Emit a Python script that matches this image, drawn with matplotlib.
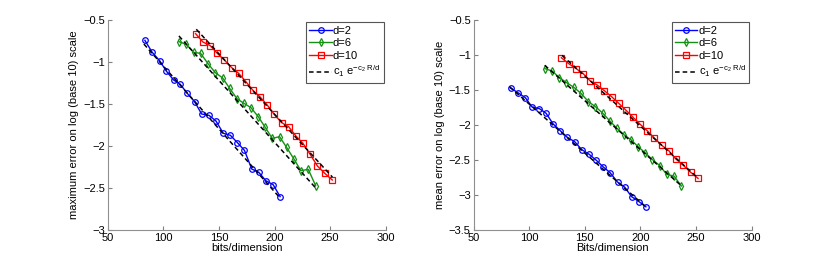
import matplotlib
matplotlib.use("Agg")
import matplotlib.pyplot as plt

plt.rcParams["font.family"] = ["Liberation Sans", "DejaVu Sans"]
plt.rcParams["mathtext.fontset"] = "custom"
plt.rcParams["mathtext.rm"] = "Liberation Sans"
plt.rcParams["mathtext.it"] = "Liberation Sans"

# bits/dimension for each dimension
x_d2 = [83.4, 90.0, 96.6, 102.6, 109.2, 115.2, 121.5, 128.1, 134.4, 141.0,
        147.3, 153.9, 160.3, 166.6, 172.9, 179.5, 185.8, 192.1, 198.7, 205.0]
x_d6 = [114.0, 120.6, 127.2, 133.5, 140.4, 146.7, 153.3, 159.6, 166.2, 172.5,
        178.8, 185.3, 191.6, 197.9, 204.5, 210.8, 217.4, 223.7, 230.3, 236.9]
x_d10 = [129.0, 135.6, 142.2, 148.5, 154.8, 161.4, 167.7, 174.2, 180.5, 186.8,
         193.4, 199.7, 206.3, 212.6, 219.2, 225.5, 231.8, 238.5, 245.1, 251.9]

# maximum error (log10)
max_d2 = [-0.742, -0.885, -0.984, -1.107, -1.214, -1.266, -1.373, -1.472, -1.619, -1.635,
          -1.702, -1.849, -1.873, -1.960, -2.052, -2.274, -2.313, -2.413, -2.460, -2.603]
max_d6 = [-0.758, -0.790, -0.885, -0.897, -1.024, -1.127, -1.190, -1.313, -1.437, -1.492,
          -1.544, -1.651, -1.778, -1.909, -1.889, -2.016, -2.155, -2.294, -2.278, -2.472]
max_d10 = [-0.663, -0.762, -0.806, -0.897, -0.976, -1.067, -1.135, -1.234, -1.337, -1.413,
           -1.512, -1.623, -1.722, -1.770, -1.881, -1.968, -2.095, -2.238, -2.325, -2.405]

# mean error (log10)
mean_d2 = [-1.473, -1.539, -1.610, -1.742, -1.766, -1.832, -1.983, -2.083, -2.177, -2.239,
           -2.352, -2.418, -2.503, -2.598, -2.683, -2.815, -2.886, -3.023, -3.094, -3.169]
mean_d6 = [-1.194, -1.228, -1.322, -1.393, -1.464, -1.549, -1.667, -1.738, -1.832, -1.941,
           -2.045, -2.139, -2.210, -2.309, -2.399, -2.494, -2.579, -2.706, -2.730, -2.872]
mean_d10 = [-1.039, -1.124, -1.194, -1.265, -1.369, -1.431, -1.511, -1.596, -1.690, -1.785,
            -1.889, -1.988, -2.083, -2.187, -2.290, -2.366, -2.484, -2.574, -2.673, -2.763]

# fitted c1*exp(-c2 R/d) lines (end points)
fit_x_d2 = [82.5, 205.0]
fit_x_d6 = [114.0, 237.0]
fit_x_d10 = [129.6, 252.0]
fit_max_d2 = [-0.786, -2.62]
fit_max_d6 = [-0.690, -2.50]
fit_max_d10 = [-0.610, -2.37]
fit_mean_d2 = [-1.455, -3.17]
fit_mean_d6 = [-1.147, -2.87]
fit_mean_d10 = [-1.006, -2.76]

labels = ["d=2", "d=6", "d=10", r"$c_1\ e^{-c_2\ R/d}$"]
colors = ["#0000ff", "#149014", "#ff0000"]
markers = ["o", "d", "s"]

fig = plt.figure(figsize=(8.3, 2.6), dpi=100)
ax1 = fig.add_axes([0.1298, 0.1154, 0.335, 0.8077])
ax2 = fig.add_axes([0.5705, 0.1154, 0.335, 0.8077])

panels = [
    (ax1, [max_d2, max_d6, max_d10], [fit_max_d2, fit_max_d6, fit_max_d10],
     "maximum error on log (base 10) scale", "bits/dimension", (-3, -0.5)),
    (ax2, [mean_d2, mean_d6, mean_d10], [fit_mean_d2, fit_mean_d6, fit_mean_d10],
     "mean error on log (base 10) scale", "Bits/dimension", (-3.5, -0.5)),
]
xs = [x_d2, x_d6, x_d10]
fit_xs = [fit_x_d2, fit_x_d6, fit_x_d10]

for ax, ys, fits, ylab, xlab, ylim in panels:
    handles = []
    for x, y, c, m in zip(xs, ys, colors, markers):
        h, = ax.plot(x, y, color=c, marker=m, mfc="none", mec=c, ms=4, lw=1, mew=0.9)
        handles.append(h)
    for fx, fy in zip(fit_xs, fits):
        hf, = ax.plot(fx, fy, "k--", lw=1.1, dashes=(3, 2))
    handles.append(hf)
    ax.set_xlim(50, 300)
    ax.set_ylim(*ylim)
    ax.set_xticks([50, 100, 150, 200, 250, 300])
    ax.set_xlabel(xlab, fontsize=8, labelpad=0)
    ax.set_ylabel(ylab, fontsize=8, labelpad=3)
    ax.tick_params(direction="in", labelsize=8, color="#808080", length=3, pad=2)
    for s in ["top", "right"]:
        ax.spines[s].set_visible(False)
    for s in ["left", "bottom"]:
        ax.spines[s].set_color("#909090")
        ax.spines[s].set_linewidth(0.8)
    ax.yaxis.set_major_formatter(plt.FuncFormatter(lambda v, p: ("%g" % v).replace("-", "\u2212")))
    leg = ax.legend(handles, labels, loc="upper right", fontsize=8, fancybox=False,
                    framealpha=1, edgecolor="#555555", handlelength=2.0,
                    handletextpad=0.1, borderaxespad=0.2, labelspacing=0.25,
                    borderpad=0.3)
    leg.get_frame().set_linewidth(0.8)

fig.savefig("out.png", dpi=100)
